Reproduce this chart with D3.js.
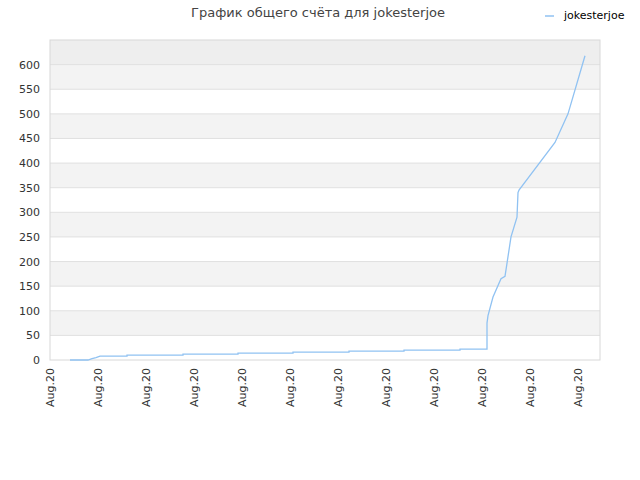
<!DOCTYPE html>
<html><head><meta charset="utf-8">
<script src="https://cdn.jsdelivr.net/npm/d3@7"></script>
<style>body{margin:0;background:#fff}text{font-family:"DejaVu Sans",sans-serif}</style>
</head><body><svg id="svg" width="640" height="480"></svg>
<script>
// --- DATA ---
const tickPos = [0, 48, 96, 144, 192, 240, 288, 336, 384, 432, 480, 528];
const tickLabel = "Aug.20";
const xs = [20, 38, 42, 46, 50, 77, 77, 133, 133, 188, 188, 243, 243, 299, 299, 354, 354, 410, 410, 437, 437, 438, 443, 451, 455, 461, 467, 468, 469, 505, 518, 535];
const ys = [0, 0, 3, 5, 8, 8, 10, 10, 12, 12, 14, 14, 16, 16, 18, 18, 20, 20, 22, 22, 75, 90, 128, 165, 170, 250, 290, 340, 345, 442, 500, 618];
const seriesName = "jokesterjoe";

// --- LAYOUT ---
const L = 50, R = 600, T = 40, B = 360;
const svg = d3.select("#svg");
const x = d3.scaleLinear().domain([0, 550]).range([L, R]);
const y = d3.scaleLinear().domain([0, 650]).range([B, T]);

// bands
d3.range(0, 650, 50).forEach((v, i) => {
  svg.append("rect")
    .attr("x", L).attr("width", R - L)
    .attr("y", y(v + 50)).attr("height", y(v) - y(v + 50))
    .attr("fill", v === 600 ? "#eeeeee" : (i % 2 ? "#f3f3f3" : "#ffffff"));
});
// grid
d3.range(50, 650, 50).forEach(v => {
  svg.append("line").attr("x1", L).attr("x2", R)
    .attr("y1", y(v)).attr("y2", y(v)).attr("stroke", "#e0e0e0");
});
svg.append("rect").attr("x", L).attr("y", T).attr("width", R - L).attr("height", B - T)
  .attr("fill", "none").attr("stroke", "#d8d8d8");

// y labels
d3.range(0, 650, 50).forEach(v => {
  svg.append("text").attr("x", 40).attr("y", y(v) + 4)
    .attr("text-anchor", "end").attr("font-size", 11).attr("fill", "#333").text(v);
});
// x labels
tickPos.forEach(p => {
  svg.append("text")
    .attr("transform", `translate(${x(p) + 4},368) rotate(-90)`)
    .attr("text-anchor", "end").attr("font-size", 11).attr("fill", "#333").text(tickLabel);
});

// line
const pts = xs.map((v, i) => [v, ys[i]]);
svg.append("path").datum(pts)
  .attr("fill", "none").attr("stroke", "#90c2f2").attr("stroke-width", 1.3)
  .attr("d", d3.line().x(d => x(d[0])).y(d => y(d[1])));

// title & legend
svg.append("text").attr("x", 318).attr("y", 17).attr("text-anchor", "middle")
  .attr("font-size", 13).attr("fill", "#444").text("График общего счёта для jokesterjoe");
svg.append("line").attr("x1", 545).attr("x2", 554).attr("y1", 16).attr("y2", 16)
  .attr("stroke", "#90c2f2").attr("stroke-width", 1.5);
svg.append("text").attr("x", 564).attr("y", 19).attr("font-size", 11).attr("fill", "#000").text(seriesName);
</script></body></html>
